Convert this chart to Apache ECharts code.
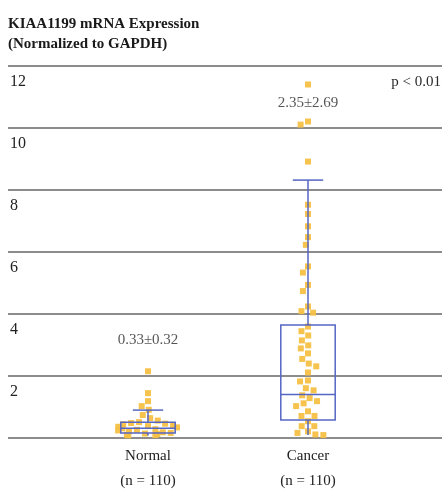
<!DOCTYPE html>
<html>
<head>
<meta charset="utf-8">
<script src="https://cdn.jsdelivr.net/npm/echarts@6/dist/echarts.min.js"></script>
<style>html,body{margin:0;padding:0;background:#fff}#c{width:442px;height:494px}</style>
</head>
<body>
<div id="c"></div>
<script>
// ---- data ----
const categories = ['Normal', 'Cancer'];
const sampleSizes = [110, 110];
const yTicks = [0, 2, 4, 6, 8, 10, 12];
const normalValues = [2.1, 1.39, 1.13, 0.97, 0.85, 0.68, 0.58, 0.5, 0.45, 0.42, 0.4, 0.38, 0.35, 0.32,
  0.3, 0.28, 0.25, 0.22, 0.2, 0.18, 0.15, 0.12, 0.1, 0.08, 0.06, 0.04, 0.03, 0.02];
const cancerValues = [11.4, 10.2, 10.1, 8.9, 7.5, 7.2, 6.8, 6.45, 6.2, 5.5, 5.3, 4.9, 4.7, 4.2, 4.05, 4.0,
  3.55, 3.4, 3.26, 3.1, 2.94, 2.84, 2.68, 2.5, 2.35, 2.26, 2.06, 1.8, 1.77, 1.55, 1.48, 1.32, 1.23,
  1.13, 1.06, 0.97, 0.8, 0.65, 0.65, 0.48, 0.32, 0.32, 0.15, 0.1, 0.05, 0.03];
// [min, Q1, median, Q3, max]
const normalBox = [0.02, 0.1, 0.25, 0.45, 0.84];
const cancerBox = [0.03, 0.52, 1.35, 3.6, 8.3];
const summaryLabels = ['0.33±0.32', '2.35±2.69'];
const summaryLabelY = [3.1, 10.8];
const pText = 'p < 0.01';

const serif = '"Liberation Serif","DejaVu Serif",serif';
const boxColor = '#5566c4';
const dotColor = '#f6c144';

const chart = echarts.init(document.getElementById('c'), null, {renderer: 'canvas'});

const scatterData = [];
normalValues.forEach(v => scatterData.push([0, v]));
cancerValues.forEach(v => scatterData.push([1, v]));

const boxData = [[0].concat(normalBox), [1].concat(cancerBox)];

chart.setOption({
  animation: false,
  grid: [
    {left: 8, right: 0, top: 66, bottom: 56},
    {left: 68, width: 320, top: 66, bottom: 56}
  ],
  xAxis: [
    {gridIndex: 0, type: 'value', show: false, min: 0, max: 1},
    {gridIndex: 1, type: 'category', data: categories,
      jitter: 60, jitterOverlap: false, jitterMargin: 2,
      axisLine: {show: false}, axisTick: {show: false},
      axisLabel: {
        margin: 8, fontFamily: serif, fontSize: 15, lineHeight: 25, color: '#222',
        formatter: (v, i) => v + '\n(n = ' + sampleSizes[i] + ')'
      }
    }
  ],
  yAxis: [
    {gridIndex: 0, type: 'value', min: yTicks[0], max: yTicks[yTicks.length - 1], interval: 2,
      axisLine: {show: false}, axisTick: {show: false},
      axisLabel: {inside: true, margin: 2, verticalAlign: 'top', padding: [8, 0, 0, 0],
        showMinLabel: false,
        fontFamily: serif, fontSize: 16, color: '#222'},
      splitLine: {show: true, lineStyle: {color: '#8c8c8c', width: 2}}
    },
    {gridIndex: 1, type: 'value', min: 0, max: 12, show: false}
  ],
  series: [
    {
      type: 'scatter', xAxisIndex: 1, yAxisIndex: 1,
      symbol: 'rect', symbolSize: 6,
      itemStyle: {color: dotColor, opacity: 0.95},
      data: scatterData, z: 2
    },
    {
      type: 'custom', xAxisIndex: 1, yAxisIndex: 1, z: 3,
      data: boxData,
      renderItem: function (params, api) {
        const c = api.value(0);
        const pMin = api.coord([c, api.value(1)]);
        const pQ1 = api.coord([c, api.value(2)]);
        const pMed = api.coord([c, api.value(3)]);
        const pQ3 = api.coord([c, api.value(4)]);
        const pMax = api.coord([c, api.value(5)]);
        const band = api.size([1, 0])[0];
        const hw = band * 0.17;
        const cw = band * 0.095;
        const x = pMed[0];
        const st = {stroke: boxColor, lineWidth: 1.5, fill: null};
        return {
          type: 'group',
          children: [
            {type: 'line', shape: {x1: x, y1: pQ3[1], x2: x, y2: pMax[1]}, style: st},
            {type: 'line', shape: {x1: x - cw, y1: pMax[1], x2: x + cw, y2: pMax[1]}, style: st},
            {type: 'line', shape: {x1: x, y1: pQ1[1], x2: x, y2: pMin[1]}, style: st},
            {type: 'rect', shape: {x: x - hw, y: pQ3[1], width: hw * 2, height: pQ1[1] - pQ3[1]}, style: st},
            {type: 'line', shape: {x1: x - hw, y1: pMed[1], x2: x + hw, y2: pMed[1]}, style: st}
          ]
        };
      }
    },
    {
      type: 'scatter', xAxisIndex: 1, yAxisIndex: 1, symbolSize: 0, silent: true, z: 4,
      data: summaryLabels.map((t, i) => ({value: [i, summaryLabelY[i]], name: t})),
      label: {show: true, position: 'inside', formatter: p => p.name,
        fontFamily: serif, fontSize: 15, color: '#2a2a2a'}
    }
  ],
  graphic: [
    {type: 'text', left: 8, top: 17, style: {text: 'KIAA1199 mRNA Expression',
      font: 'bold 15px ' + serif, fill: '#1a1a1a'}},
    {type: 'text', left: 8, top: 37, style: {text: '(Normalized to GAPDH)',
      font: 'bold 15px ' + serif, fill: '#1a1a1a'}},
    {type: 'text', right: 1, top: 75, style: {text: pText, font: '15px ' + serif, fill: '#2a2a2a'}}
  ]
});
</script>
</body>
</html>
